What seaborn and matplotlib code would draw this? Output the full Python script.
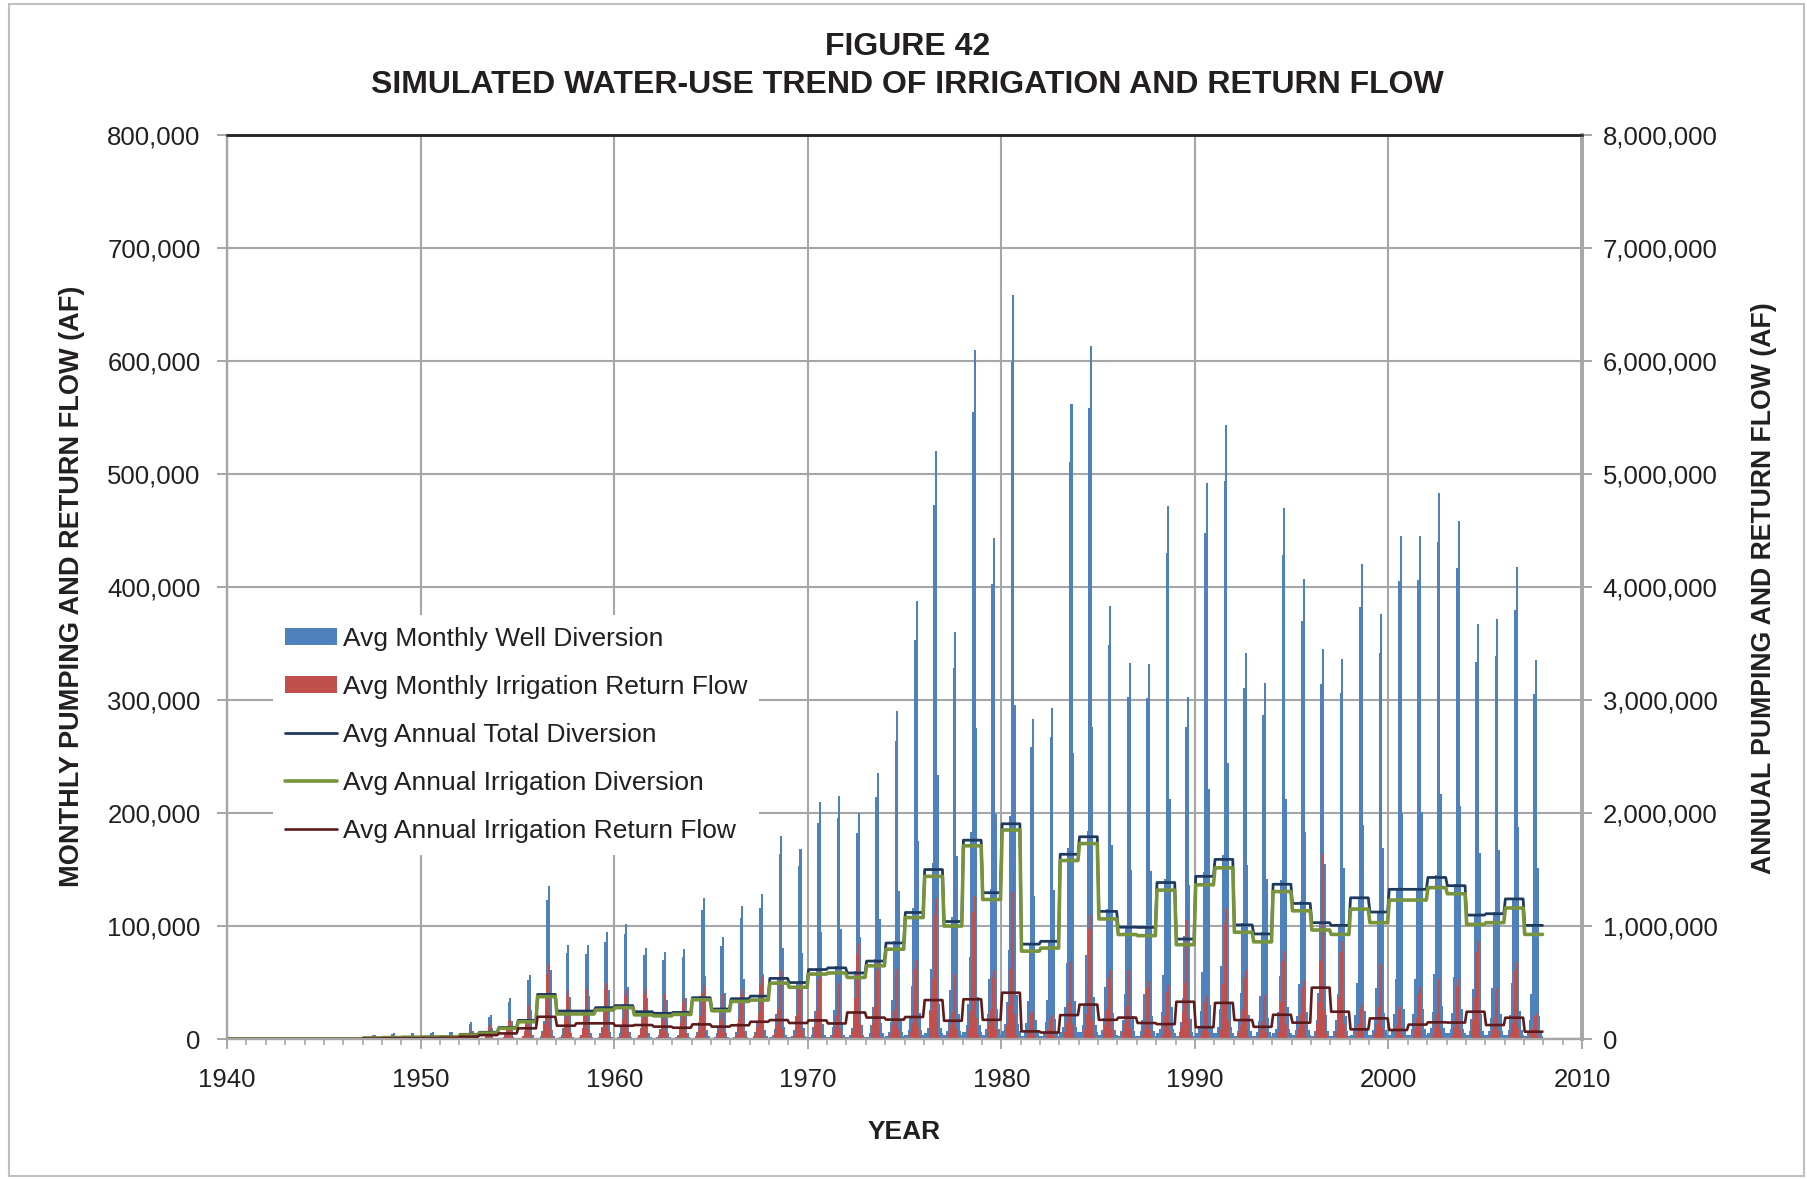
import numpy as np
import pandas as pd
import matplotlib
matplotlib.use("Agg")
import matplotlib.pyplot as plt
from matplotlib.patches import Patch, Rectangle
from matplotlib.lines import Line2D
from matplotlib.ticker import FuncFormatter, MultipleLocator
import seaborn as sns

# ---------------------------------------------------------------------------
# Simulated monthly well diversion (thousand acre-feet), Jan..Dec, one row per year
# ---------------------------------------------------------------------------
Z = [0, 0, 0, 0, 0, 0, 0, 0, 0, 0, 0, 0]

well_1940s = [
    Z, Z, Z, Z, Z, Z, Z,
    [0, 0, 0.1, 0.2, 0.4, 1.0, 3.2, 3.5, 1.6, 0.2, 0.1, 0],
    [0.1, 0.1, 0.1, 0.3, 0.6, 1.5, 4.6, 5.0, 2.3, 0.3, 0.1, 0.1],
    [0.1, 0.1, 0.1, 0.3, 0.7, 1.7, 5.0, 5.5, 2.5, 0.3, 0.1, 0.1],
]
well_1950s = [
    [0.1, 0.1, 0.1, 0.3, 0.7, 1.8, 5.5, 6.0, 2.7, 0.4, 0.1, 0.1],
    [0.1, 0.1, 0.1, 0.3, 0.8, 2.0, 5.9, 6.5, 2.9, 0.4, 0.1, 0.1],
    [0.2, 0.2, 0.3, 0.8, 1.8, 4.5, 13.7, 15.0, 6.8, 0.9, 0.3, 0.2],
    [0.2, 0.2, 0.4, 1.1, 2.5, 6.3, 19.1, 21.0, 9.5, 1.3, 0.4, 0.2],
    [0.4, 0.4, 0.7, 1.8, 4.3, 10.8, 32.8, 36.0, 16.2, 2.2, 0.7, 0.4],
    [0.6, 0.6, 1.1, 2.9, 6.8, 17.1, 51.9, 57.0, 25.7, 3.4, 1.1, 0.6],
    [1, 1, 3, 7, 16, 41, 123, 135, 61, 8, 3, 1],
    [1, 1, 2, 4, 10, 25, 76, 83, 37, 5, 2, 1],
    [1, 1, 2, 4, 10, 26, 75, 83, 38, 5, 2, 1],
    [1, 1, 2, 5, 11, 29, 86, 95, 43, 6, 2, 1],
]
well_1960s = [
    [1, 1, 2, 5, 12, 31, 93, 102, 46, 6, 2, 1],
    [1, 1, 2, 4, 10, 24, 74, 81, 36, 5, 2, 1],
    [1, 1, 2, 4, 9, 23, 70, 77, 35, 5, 2, 1],
    [1, 1, 2, 4, 10, 24, 73, 80, 36, 5, 2, 1],
    [1, 1, 3, 6, 15, 38, 114, 125, 56, 8, 3, 1],
    [1, 1, 2, 5, 11, 27, 82, 90, 41, 5, 2, 1],
    [1, 1, 2, 6, 14, 35, 107, 118, 53, 7, 2, 1],
    [1, 1, 3, 6, 15, 38, 116, 128, 58, 8, 3, 1],
    [2, 2, 4, 9, 22, 54, 164, 180, 81, 11, 4, 2],
    [2, 2, 3, 8, 20, 50, 153, 168, 76, 10, 3, 2],
]
well_1970s = [
    [2, 2, 4, 11, 25, 63, 191, 210, 95, 13, 4, 2],
    [2, 2, 4, 11, 26, 65, 196, 215, 97, 13, 4, 2],
    [2, 2, 4, 10, 24, 60, 182, 200, 90, 12, 4, 2],
    [2, 2, 5, 12, 28, 71, 214, 235, 106, 14, 5, 2],
    [3, 3, 6, 15, 35, 87, 264, 290, 131, 17, 6, 3],
    [4, 4, 8, 19, 47, 116, 353, 388, 175, 23, 8, 4],
    [5, 5, 10, 26, 62, 156, 473, 520, 234, 31, 10, 5],
    [4, 4, 7, 18, 43, 108, 328, 360, 162, 22, 7, 4],
    [6, 6, 12, 31, 73, 183, 555, 610, 275, 37, 12, 6],
    [4, 4, 9, 22, 53, 133, 403, 443, 199, 27, 9, 4],
]
well_1980s = [
    [7, 7, 13, 33, 79, 197, 599, 658, 296, 39, 13, 7],
    [3, 3, 6, 14, 34, 85, 258, 283, 127, 17, 6, 3],
    [3, 3, 6, 15, 35, 88, 267, 293, 132, 18, 6, 3],
    [6, 6, 11, 28, 67, 169, 511, 562, 253, 34, 11, 6],
    [6, 6, 12, 31, 74, 184, 558, 613, 276, 37, 12, 6],
    [4, 4, 8, 19, 46, 115, 349, 383, 172, 23, 8, 4],
    [3, 3, 7, 17, 40, 100, 303, 333, 150, 20, 7, 3],
    [3, 3, 7, 17, 40, 100, 302, 332, 149, 20, 7, 3],
    [5, 5, 9, 24, 57, 142, 430, 472, 212, 28, 9, 5],
    [3, 3, 6, 15, 36, 91, 276, 303, 136, 18, 6, 3],
]
well_1990s = [
    [5, 5, 10, 25, 59, 148, 448, 492, 221, 30, 10, 5],
    [5, 5, 11, 27, 65, 163, 494, 543, 244, 33, 11, 5],
    [3, 3, 7, 17, 41, 103, 311, 342, 154, 21, 7, 3],
    [3, 3, 6, 16, 38, 95, 287, 315, 142, 19, 6, 3],
    [5, 5, 9, 24, 56, 141, 428, 470, 212, 28, 9, 5],
    [4, 4, 8, 20, 49, 122, 370, 407, 183, 24, 8, 4],
    [3, 3, 7, 17, 41, 104, 314, 345, 155, 21, 7, 3],
    [3, 3, 7, 17, 40, 101, 306, 336, 151, 20, 7, 3],
    [4, 4, 8, 21, 50, 126, 382, 420, 189, 25, 8, 4],
    [4, 4, 8, 19, 45, 113, 342, 376, 169, 23, 8, 4],
]
well_2000s = [
    [4, 4, 9, 22, 53, 134, 405, 445, 200, 27, 9, 4],
    [4, 4, 9, 22, 53, 133, 406, 445, 201, 27, 9, 4],
    [5, 5, 10, 24, 58, 145, 440, 483, 217, 29, 10, 5],
    [5, 5, 9, 23, 55, 137, 417, 458, 206, 27, 9, 5],
    [4, 4, 7, 18, 44, 110, 334, 367, 165, 22, 7, 4],
    [4, 4, 7, 19, 45, 112, 339, 372, 167, 22, 7, 4],
    [4, 4, 8, 21, 50, 125, 380, 418, 188, 25, 8, 4],
    [3, 3, 7, 17, 40, 101, 305, 335, 151, 20, 7, 3],
]

# Simulated monthly irrigation return flow (thousand acre-feet)
return_1940s = [
    Z, Z, Z, Z, Z, Z, Z,
    [0, 0, 0, 0.1, 0.4, 0.8, 1.6, 1.8, 0.3, 0.1, 0, 0],
    [0, 0, 0, 0.2, 0.5, 1.1, 2.2, 2.5, 0.4, 0.1, 0, 0],
    [0, 0, 0, 0.2, 0.6, 1.2, 2.6, 2.9, 0.4, 0.1, 0, 0],
]
return_1950s = [
    [0, 0, 0, 0.3, 0.6, 1.3, 2.8, 3.2, 0.5, 0.1, 0, 0],
    [0, 0, 0, 0.3, 0.8, 1.7, 3.5, 4.0, 0.6, 0.1, 0, 0],
    [0, 0, 0.1, 0.6, 1.5, 3.2, 6.7, 7.6, 1.1, 0.2, 0, 0],
    [0, 0, 0.1, 1.0, 2.5, 5.3, 11.1, 12.6, 1.9, 0.4, 0, 0],
    [0, 0, 0.2, 1.4, 3.6, 7.6, 15.8, 18.0, 2.7, 0.5, 0, 0],
    [0, 0, 0.3, 2.7, 6.8, 14.3, 29.9, 34.0, 5.1, 1.0, 0, 0],
    [0, 0, 1, 5, 13, 28, 58, 66, 10, 2, 0, 0],
    [0, 0, 0, 3, 9, 18, 38, 43, 6, 1, 0, 0],
    [0, 0, 1, 4, 10, 21, 44, 50, 8, 2, 0, 0],
    [0, 0, 1, 4, 10, 21, 44, 50, 8, 2, 0, 0],
]
return_1960s = [
    [0, 0, 0, 3, 9, 18, 38, 43, 6, 1, 0, 0],
    [0, 0, 0, 4, 9, 19, 40, 45, 7, 1, 0, 0],
    [0, 0, 0, 3, 8, 17, 35, 40, 6, 1, 0, 0],
    [0, 0, 0, 3, 7, 15, 32, 36, 5, 1, 0, 0],
    [0, 0, 0, 4, 9, 20, 41, 47, 7, 1, 0, 0],
    [0, 0, 0, 3, 8, 17, 35, 40, 6, 1, 0, 0],
    [0, 0, 0, 4, 9, 18, 39, 44, 7, 1, 0, 0],
    [0, 0, 1, 4, 11, 23, 48, 55, 8, 2, 0, 0],
    [0, 0, 1, 5, 12, 26, 54, 61, 9, 2, 0, 0],
    [0, 0, 1, 4, 10, 21, 45, 51, 8, 2, 0, 0],
]
return_1970s = [
    [0, 0, 1, 5, 12, 25, 53, 60, 9, 2, 0, 0],
    [0, 0, 1, 4, 10, 21, 44, 50, 8, 2, 0, 0],
    [0, 0, 1, 7, 17, 36, 75, 85, 13, 3, 0, 0],
    [0, 0, 1, 6, 14, 29, 61, 69, 10, 2, 0, 0],
    [0, 0, 1, 5, 12, 26, 55, 62, 9, 2, 0, 0],
    [0, 0, 1, 6, 14, 29, 62, 70, 11, 2, 0, 0],
    [0, 0, 1, 10, 25, 53, 110, 125, 19, 4, 0, 0],
    [0, 0, 1, 5, 12, 24, 51, 58, 9, 2, 0, 0],
    [0, 0, 1, 10, 25, 53, 112, 127, 19, 4, 0, 0],
    [0, 0, 1, 5, 12, 26, 54, 61, 9, 2, 0, 0],
]
return_1980s = [
    [0, 0, 1, 12, 30, 62, 130, 148, 22, 4, 0, 0],
    [0, 0, 0, 2, 5, 11, 22, 25, 4, 1, 0, 0],
    [0, 0, 0, 2, 4, 9, 18, 21, 3, 1, 0, 0],
    [0, 0, 1, 6, 15, 32, 68, 77, 12, 2, 0, 0],
    [0, 0, 1, 9, 22, 46, 97, 110, 17, 3, 0, 0],
    [0, 0, 1, 5, 12, 26, 54, 61, 9, 2, 0, 0],
    [0, 0, 1, 6, 14, 29, 61, 69, 10, 2, 0, 0],
    [0, 0, 1, 4, 10, 21, 45, 51, 8, 2, 0, 0],
    [0, 0, 0, 4, 10, 20, 42, 48, 7, 1, 0, 0],
    [0, 0, 1, 10, 24, 50, 105, 119, 18, 4, 0, 0],
]
return_1990s = [
    [0, 0, 0, 3, 8, 16, 33, 38, 6, 1, 0, 0],
    [0, 0, 1, 9, 23, 49, 102, 116, 17, 3, 0, 0],
    [0, 0, 1, 5, 12, 26, 54, 61, 9, 2, 0, 0],
    [0, 0, 0, 3, 8, 16, 34, 39, 6, 1, 0, 0],
    [0, 0, 1, 6, 16, 33, 69, 78, 12, 2, 0, 0],
    [0, 0, 1, 4, 10, 22, 46, 52, 8, 2, 0, 0],
    [0, 0, 2, 13, 33, 69, 144, 164, 25, 5, 0, 0],
    [0, 0, 1, 7, 17, 37, 77, 87, 13, 3, 0, 0],
    [0, 0, 0, 2, 6, 13, 27, 31, 5, 1, 0, 0],
    [0, 0, 1, 5, 13, 28, 58, 66, 10, 2, 0, 0],
]
return_2000s = [
    [0, 0, 0, 2, 6, 12, 26, 29, 4, 1, 0, 0],
    [0, 0, 0, 4, 9, 19, 40, 46, 7, 1, 0, 0],
    [0, 0, 1, 4, 11, 22, 47, 53, 8, 2, 0, 0],
    [0, 0, 1, 4, 11, 22, 47, 53, 8, 2, 0, 0],
    [0, 0, 1, 7, 17, 37, 77, 87, 13, 3, 0, 0],
    [0, 0, 0, 4, 9, 19, 40, 45, 7, 1, 0, 0],
    [0, 0, 1, 5, 14, 29, 60, 68, 10, 2, 0, 0],
    [0, 0, 0, 2, 5, 10, 20, 23, 3, 1, 0, 0],
]

# Annual averages (thousand acre-feet), 1940..2007
annual_total = [
    0, 0, 0, 0, 0, 0, 0, 10, 14, 16,
    18, 20, 42, 60, 103, 165, 395, 248, 248, 278,
    296, 242, 228, 236, 366, 266, 357, 380, 537, 500,
    615, 630, 585, 690, 850, 1120, 1500, 1040, 1760, 1295,
    1905, 840, 865, 1635, 1790, 1130, 990, 988, 1385, 885,
    1440, 1590, 1010, 930, 1370, 1200, 1030, 1006, 1250, 1124,
    1325, 1325, 1430, 1357, 1097, 1109, 1240, 1006,
]
annual_irrigation = [
    0, 0, 0, 0, 0, 0, 0, 9, 13, 15,
    16, 18, 36, 52, 95, 153, 375, 222, 222, 257,
    278, 214, 205, 218, 348, 250, 333, 345, 495, 458,
    575, 585, 545, 648, 795, 1075, 1440, 1000, 1710, 1235,
    1850, 778, 805, 1580, 1730, 1063, 925, 915, 1318, 835,
    1365, 1515, 945, 860, 1305, 1135, 965, 926, 1150, 1030,
    1230, 1230, 1340, 1286, 1015, 1030, 1160, 926,
]
annual_return = [
    0, 0, 0, 0, 0, 0, 0, 5, 7, 8,
    9, 11, 21, 35, 50, 95, 197, 118, 139, 139,
    118, 124, 110, 100, 130, 110, 122, 153, 168, 142,
    165, 138, 235, 190, 172, 195, 345, 162, 352, 170,
    410, 68, 58, 212, 305, 170, 190, 142, 132, 330,
    105, 320, 168, 108, 215, 145, 455, 242, 86, 183,
    80, 128, 148, 146, 242, 124, 189, 65,
]

first_year, last_year = 1940, 2007
series_labels = [
    "Avg Monthly Well Diversion",
    "Avg Monthly Irrigation Return Flow",
    "Avg Annual Total Diversion",
    "Avg Annual Irrigation Diversion",
    "Avg Annual Irrigation Return Flow",
]

BLUE = "#4F81BD"
RED = "#C0504D"
NAVY = "#1F3A5F"
GREEN = "#77933C"
MAROON = "#5E1B1B"
GRID = "#A6A6A6"
TEXT = "#231F20"

# ---------------------------------------------------------------------------
sns.set_theme(style="white")
plt.rcParams["font.family"] = ["Liberation Sans", "DejaVu Sans"]

years = np.arange(first_year, last_year + 1)
well = np.array(well_1940s + well_1950s + well_1960s + well_1970s
                + well_1980s + well_1990s + well_2000s, dtype=float)
ret = np.array(return_1940s + return_1950s + return_1960s + return_1970s
               + return_1980s + return_1990s + return_2000s, dtype=float)

# one row per month, positioned at the middle of the month on a decimal-year axis
month_pos = years[:, None] + (np.arange(12) + 0.5) / 12.0
monthly = pd.DataFrame({
    "t": month_pos.ravel(),
    "well": well.ravel() * 1000.0,
    "ret": ret.ravel() * 1000.0,
})

# annual values drawn as flat segments across each year
seg_t = np.column_stack([years + 0.5 / 12.0, years + 11.5 / 12.0]).ravel()
annual = pd.DataFrame({
    "t": seg_t,
    "total": np.repeat(annual_total, 2) * 1000.0,
    "irrigation": np.repeat(annual_irrigation, 2) * 1000.0,
    "return": np.repeat(annual_return, 2) * 1000.0,
})

fig = plt.figure(figsize=(18.08, 11.79), dpi=100)
fig.patch.set_facecolor("white")
ax = fig.add_axes([0.1256, 0.1187, 0.7494, 0.7668])
ax.set_facecolor("white")

ax.bar(monthly["t"], monthly["well"], width=0.105, color=BLUE,
       linewidth=0, zorder=2)
ax.bar(monthly["t"], monthly["ret"], width=0.09, color=RED,
       linewidth=0, zorder=3)

ax2 = ax.twinx()
sns.lineplot(data=annual, x="t", y="total", ax=ax2, color=NAVY, linewidth=2.0,
             estimator=None, sort=False, legend=False)
sns.lineplot(data=annual, x="t", y="irrigation", ax=ax2, color=GREEN, linewidth=2.6,
             estimator=None, sort=False, legend=False)
sns.lineplot(data=annual, x="t", y="return", ax=ax2, color=MAROON, linewidth=1.9,
             estimator=None, sort=False, legend=False)

# axes ranges and ticks
ax.set_xlim(1940, 2010)
ax.set_ylim(0, 800000)
ax2.set_ylim(0, 8000000)
ax.xaxis.set_major_locator(MultipleLocator(10))
ax.xaxis.set_minor_locator(MultipleLocator(1))
ax.yaxis.set_major_locator(MultipleLocator(100000))
ax2.yaxis.set_major_locator(MultipleLocator(1000000))
comma = FuncFormatter(lambda v, p: f"{int(round(v)):,}")
ax.yaxis.set_major_formatter(comma)
ax2.yaxis.set_major_formatter(comma)
ax.xaxis.set_major_formatter(FuncFormatter(lambda v, p: f"{int(v)}"))

ax.grid(True, which="major", axis="both", color=GRID, linewidth=1.5)
ax.set_axisbelow(True)
ax2.grid(False)
ax.set_xlabel("")
ax.set_ylabel("")
ax2.set_xlabel("")
ax2.set_ylabel("")

ax.tick_params(axis="x", which="major", direction="out", length=7, width=1.4,
               color=GRID, labelsize=18.5, labelcolor=TEXT, pad=14, bottom=True)
ax.tick_params(axis="x", which="minor", direction="out", length=4, width=1.2,
               color=GRID, bottom=True)
ax.tick_params(axis="y", which="major", direction="out", length=7, width=1.4,
               color=GRID, labelsize=18.5, labelcolor=TEXT, pad=12, left=True)
ax2.tick_params(axis="y", which="major", direction="out", length=7, width=1.4,
                color=GRID, labelsize=18.5, labelcolor=TEXT, pad=8, right=True)

for a in (ax, ax2):
    for side in ("left", "bottom", "right"):
        a.spines[side].set_color(GRID)
        a.spines[side].set_linewidth(1.6)
    a.spines["top"].set_color("#262626")
    a.spines["top"].set_linewidth(1.8)
ax2.spines["right"].set_linewidth(2.8)

# legend
handles = [
    Patch(facecolor=BLUE, edgecolor="none"),
    Patch(facecolor=RED, edgecolor="none"),
    Line2D([], [], color=NAVY, linewidth=2.0),
    Line2D([], [], color=GREEN, linewidth=2.6),
    Line2D([], [], color=MAROON, linewidth=1.9),
]
leg = ax2.legend(handles, series_labels, loc="upper left",
                 bbox_to_anchor=(0.034, 0.469), borderaxespad=0,
                 frameon=True, fancybox=False, framealpha=1.0,
                 facecolor="white", edgecolor="none",
                 fontsize=19, handlelength=1.97, handleheight=0.6,
                 handletextpad=0.22, labelspacing=0.91, borderpad=0.45)
for t in leg.get_texts():
    t.set_color(TEXT)

# titles and axis captions
fig.text(0.5017, 0.9600, "FIGURE 42", ha="center", va="center",
         fontsize=23, fontweight="bold", color=TEXT)
fig.text(0.5017, 0.9282, "SIMULATED WATER-USE TREND OF IRRIGATION AND RETURN FLOW",
         ha="center", va="center", fontsize=23, fontweight="bold", color=TEXT)
fig.text(0.0400, 0.503, "MONTHLY PUMPING AND RETURN FLOW (AF)", rotation=90,
         ha="center", va="center", fontsize=19.5, fontweight="bold", color=TEXT)
fig.text(0.9757, 0.5013, "ANNUAL PUMPING AND RETURN FLOW (AF)", rotation=90,
         ha="center", va="center", fontsize=19.2, fontweight="bold", color=TEXT)
fig.text(0.5, 0.0399, "YEAR", ha="center", va="center",
         fontsize=19, fontweight="bold", color=TEXT)

# thin frame around the whole figure
fig.patches.append(Rectangle((0.005, 0.0025), 0.9928, 0.9945, transform=fig.transFigure,
                             fill=False, edgecolor="#BFBFBF", linewidth=1.5))

fig.savefig("out.png", dpi=100, facecolor="white")
